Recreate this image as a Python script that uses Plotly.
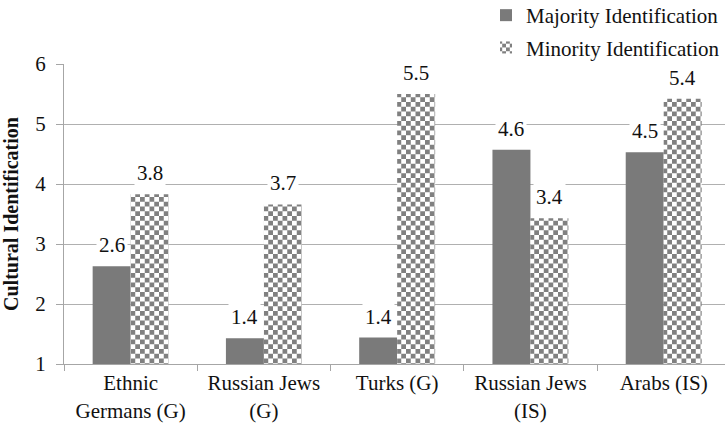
import plotly.graph_objects as go

# Group labels and mean cultural identification scores
groups = ["Ethnic<br>Germans (G)", "Russian Jews<br>(G)", "Turks (G)", "Russian Jews<br>(IS)", "Arabs (IS)"]
majority = [2.63, 1.43, 1.44, 4.57, 4.53]
minority = [3.83, 3.66, 5.50, 3.43, 5.42]
y_ticks = [1, 2, 3, 4, 5, 6]

SERIF = "Liberation Serif"
TXT = "#111111"
BAR_PX = 38  # pixel width of one bar, used to place value labels

# Checkerboard tile: two squares on opposite corners of a 2x2 cell
CELL = 4.75
checker = (f"M0,0H{CELL}V{CELL}H0Z "
           f"M{CELL},{CELL}H{2*CELL}V{2*CELL}H{CELL}Z")

fig = go.Figure()
fig.add_trace(go.Bar(
    x=groups, y=[v - 1 for v in majority], base=1,
    name="Majority Identification",
    marker=dict(color="#7a7a7a", line=dict(width=0)),
    legendgroup="a",
))
fig.add_trace(go.Bar(
    x=groups, y=[v - 1 for v in minority], base=1,
    name="Minority Identification",
    marker=dict(color="white", line=dict(width=0),
                pattern=dict(path=checker, size=2 * CELL,
                             fgcolor="#808080", bgcolor="white",
                             fillmode="replace")),
    legendgroup="b",
))

# Value labels on a white box above each bar
annotations = []
for i, g in enumerate(groups):
    for vals, dx in ((majority, -BAR_PX / 2), (minority, BAR_PX / 2)):
        annotations.append(dict(
            x=g, y=vals[i], xref="x", yref="y",
            text=f"{vals[i]:.1f}", showarrow=False,
            xshift=dx, yshift=21, yanchor="middle",
            bgcolor="white", borderpad=2,
            font=dict(family=SERIF, size=21, color=TXT),
        ))

fig.update_layout(
    width=725, height=427,
    margin=dict(l=64, r=0, t=64, b=63, autoexpand=False),
    paper_bgcolor="white", plot_bgcolor="white",
    barmode="group", bargap=0.43, bargroupgap=0,
    font=dict(family=SERIF, size=21, color=TXT),
    annotations=annotations,
    legend=dict(
        x=1.0, xanchor="right", xref="paper",
        y=1.23, yref="paper", yanchor="top",
        font=dict(family=SERIF, size=21, color=TXT),
        bgcolor="rgba(0,0,0,0)", itemwidth=30, tracegroupgap=2,
        traceorder="grouped",
    ),
    showlegend=True,
)
fig.update_xaxes(
    type="category", range=[-0.5, 4.46],
    showgrid=False, zeroline=False,
    showline=True, linecolor="#a6a6a6", linewidth=1.3,
    ticks="outside", tickson="boundaries", ticklen=6,
    tickcolor="#a6a6a6", tickwidth=1.3,
    tickfont=dict(family=SERIF, size=21, color=TXT),
)
fig.update_yaxes(
    range=[1, 6], tickvals=y_ticks,
    showgrid=True, gridcolor="#b0b0b0", gridwidth=1.3,
    zeroline=False,
    showline=True, linecolor="#a6a6a6", linewidth=1.3,
    ticks="outside", ticklen=7, tickcolor="#a6a6a6", tickwidth=1.3,
    ticklabelstandoff=6,
    tickfont=dict(family=SERIF, size=21, color=TXT),
    title=dict(text="<b>Cultural Identification</b>", standoff=14,
               font=dict(family=SERIF, size=20, color=TXT)),
)

fig.write_html("out.html")
